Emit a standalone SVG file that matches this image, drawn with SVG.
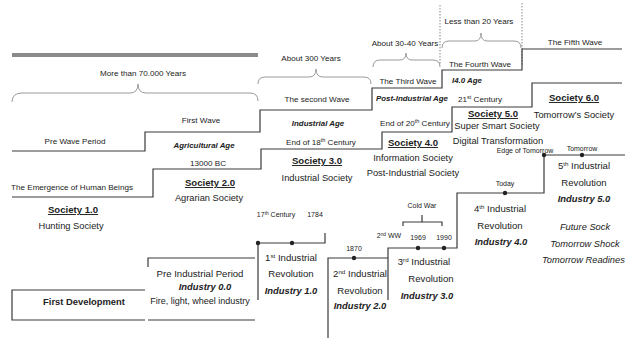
<svg xmlns="http://www.w3.org/2000/svg" width="625" height="338" viewBox="0 0 625 338">
<style>
text{font-family:"Liberation Sans",Arial,sans-serif;fill:#222;text-anchor:middle}
.w{font-size:8.1px}
.age{font-size:7.9px;font-weight:bold;font-style:italic}
.soc{font-size:9.6px;font-weight:bold;text-decoration:underline}
.d{font-size:9.3px}
.ir{font-size:9.6px}
.ib{font-size:9.4px;font-weight:bold;font-style:italic}
.s{font-size:7px}
.fut{font-size:9.3px;font-style:italic}
.ln{fill:none;stroke:#3a3a3a;stroke-width:1.2}
.br{fill:none;stroke:#9a9a9a;stroke-width:1}
.dot{fill:#222}
</style>
<g id="connectors">
<path d="M12,55 L258,55" stroke="#8a8a8a" stroke-width="4" fill="none"/>
<path class="br" d="M12,102 Q12,93 22,93 L130,93 Q138,93 138,84 Q138,93 146,93 L250,93 Q258,93 258,101"/>
<path class="br" d="M258,84 Q258,77 265,77 L309,77 Q316,77 316,69 Q316,77 323,77 L364,77 Q371,77 371,84"/>
<path class="br" d="M373,67 Q373,60 380,60 L400,60 Q406,60 406,53 Q406,60 412,60 L433,60 Q440,60 440,67"/>
<path class="br" d="M442,48 Q442,41 449,41 L475,41 Q481,41 481,33 Q481,41 487,41 L514,41 Q521,41 521,48"/>
<path d="M440,5 L440,65 M522,3 L522,66" stroke="#888" stroke-width="1" stroke-dasharray="1.5,1.5" fill="none"/>
<path class="ln" d="M12,151 L145,151 L145,132 L260,132 L260,110 L372,110 L372,88 L442,88 L442,70 L522,70 L522,49 L622,49"/>
<path class="ln" d="M12,197 L153,197 L153,169 L261,169 L261,149 L382,149 L382,132 L452,132 L452,107 L532,107 L532,83 L622,83"/>
<path class="ln" d="M145,290 L12,290 L12,320 L145,320"/>
<path class="ln" d="M148,267 L148,258 L255,258 M148,320 L255,320"/>
<path class="ln" d="M258,300 L258,243 L325,243 L325,233"/>
<path class="ln" d="M328,338 L328,258 L388,258"/>
<path class="ln" d="M388,300 L388,248 L457,248 L457,193 L544,193 L544,155 L625,155"/>
<path class="ln" stroke-width="1" d="M403,226 L403,222 L442,222 L442,226 M422,222 L422,215"/>
<circle class="dot" cx="258" cy="243" r="2.2"/>
<circle class="dot" cx="292" cy="243" r="2.2"/>
<circle class="dot" cx="354" cy="258" r="2.2"/>
<circle class="dot" cx="418" cy="248" r="2.2"/>
<circle class="dot" cx="444" cy="248" r="2.2"/>
<circle class="dot" cx="505" cy="193" r="2.2"/>
<circle class="dot" cx="544" cy="155" r="2.2"/>
<circle class="dot" cx="582" cy="155" r="2.2"/>
</g>
<g id="spans">
<text class="w" x="143" y="76">More than 70.000 Years</text>
<text class="w" x="311" y="61">About 300 Years</text>
<text class="w" x="405" y="46">About 30-40 Years</text>
<text class="w" x="479" y="24">Less than 20 Years</text>
</g>
<g id="wave-pre">
<text class="w" x="75" y="144">Pre Wave Period</text>
<text class="w" x="72" y="190" font-size="8.7px">The Emergence of Human Beings</text>
<text class="soc" x="73" y="213">Society 1.0</text>
<text class="d" x="71" y="229">Hunting Society</text>
</g>
<g id="wave-1">
<text class="w" x="201" y="123">First Wave</text>
<text class="age" x="204" y="148">Agricultural Age</text>
<text class="w" x="208" y="166">13000 BC</text>
<text class="soc" x="210" y="186">Society 2.0</text>
<text class="d" x="209" y="201">Agrarian Society</text>
</g>
<g id="wave-2">
<text class="w" x="317" y="102">The second Wave</text>
<text class="age" x="318" y="126">Industrial Age</text>
<text class="w" x="321" y="145">End of 18<tspan dy="-3" font-size="5.5px">th</tspan><tspan dy="3"> Century</tspan></text>
<text class="soc" x="317" y="164">Society 3.0</text>
<text class="d" x="317" y="181">Industrial Society</text>
</g>
<g id="wave-3">
<text class="w" x="408" y="84">The Third Wave</text>
<text class="age" x="412" y="101">Post-Industrial Age</text>
<text class="w" x="415" y="126">End of 20<tspan dy="-3" font-size="5.5px">th</tspan><tspan dy="3"> Century</tspan></text>
<text class="soc" x="413" y="146">Society 4.0</text>
<text class="d" x="413" y="161">Information Society</text>
<text class="d" x="413" y="176">Post-Industrial Society</text>
</g>
<g id="wave-4">
<text class="w" x="480" y="67">The Fourth Wave</text>
<text class="age" x="467" y="83">I4.0 Age</text>
<text class="w" x="480" y="102">21<tspan dy="-3" font-size="5.5px">st</tspan><tspan dy="3"> Century</tspan></text>
<text class="soc" x="493" y="117">Society 5.0</text>
<text class="d" x="497" y="129">Super Smart Society</text>
<text class="d" x="498" y="144">Digital Transformation</text>
</g>
<g id="wave-5">
<text class="w" x="575" y="45">The Fifth Wave</text>
<text class="soc" x="574" y="101">Society 6.0</text>
<text class="d" x="574" y="118">Tomorrow’s Society</text>
</g>
<g id="first-development">
<text x="84" y="305" font-size="9.4px" font-weight="bold">First Development</text>
</g>
<g id="industry-0">
<text class="ir" x="200" y="277">Pre Industrial Period</text>
<text class="ib" x="205" y="290">Industry 0.0</text>
<text x="200" y="304" font-size="9px">Fire, light, wheel industry</text>
</g>
<g id="industry-1">
<text class="s" x="276" y="217">17<tspan dy="-2.5" font-size="4.8px">th</tspan><tspan dy="2.5"> Century</tspan></text>
<text class="s" x="315" y="217">1784</text>
<text class="ir" x="291" y="261">1<tspan dy="-3.5" font-size="6.2px">st</tspan><tspan dy="3.5"> Industrial</tspan></text>
<text class="ir" x="291" y="277">Revolution</text>
<text class="ib" x="291" y="294">Industry 1.0</text>
</g>
<g id="industry-2">
<text class="s" x="354" y="251">1870</text>
<text class="ir" x="360" y="277">2<tspan dy="-3.5" font-size="6.2px">nd</tspan><tspan dy="3.5"> Industrial</tspan></text>
<text class="ir" x="360" y="294">Revolution</text>
<text class="ib" x="360" y="309">Industry 2.0</text>
</g>
<g id="industry-3">
<text class="s" x="422" y="208">Cold War</text>
<text class="s" x="389" y="238">2<tspan dy="-2.5" font-size="4.8px">nd</tspan><tspan dy="2.5"> WW</tspan></text>
<text class="s" x="418" y="240">1969</text>
<text class="s" x="444" y="240">1990</text>
<text class="ir" x="424" y="265">3<tspan dy="-3.5" font-size="6.2px">rd</tspan><tspan dy="3.5">  Industrial</tspan></text>
<text class="ir" x="431" y="282">Revolution</text>
<text class="ib" x="427" y="299">Industry 3.0</text>
</g>
<g id="industry-4">
<text class="s" x="505" y="186">Today</text>
<text class="ir" x="500" y="212">4<tspan dy="-3.5" font-size="6.2px">th</tspan><tspan dy="3.5">  Industrial</tspan></text>
<text class="ir" x="500" y="229">Revolution</text>
<text class="ib" x="501" y="245">Industry 4.0</text>
</g>
<g id="industry-5">
<text class="s" x="525" y="153">Edge of Tomorrow</text>
<text class="s" x="582" y="151">Tomorrow</text>
<text class="ir" x="584" y="169">5<tspan dy="-3.5" font-size="6.2px">th</tspan><tspan dy="3.5">  Industrial</tspan></text>
<text class="ir" x="584" y="186">Revolution</text>
<text class="ib" x="584" y="202">Industry 5.0</text>
<text class="fut" x="585" y="230">Future Sock</text>
<text class="fut" x="585" y="247">Tomorrow Shock</text>
<text class="fut" x="542" y="263" style="text-anchor:start">Tomorrow Readines</text>
</g>
</svg>
